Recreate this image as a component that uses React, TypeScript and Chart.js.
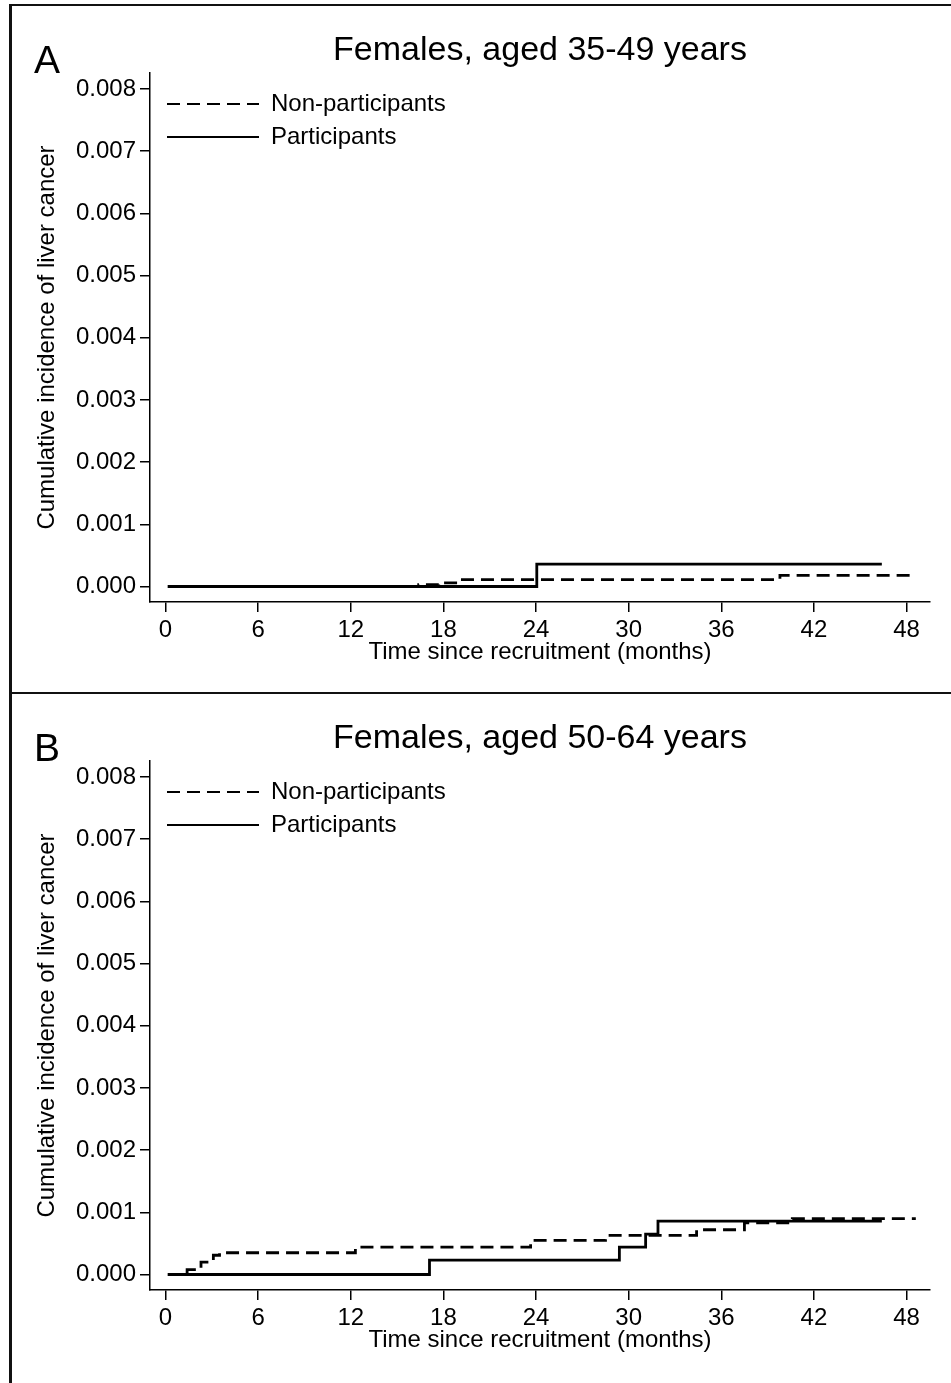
import React, { useEffect, useRef } from "react";
import { Chart, registerables } from "chart.js";

Chart.register(...registerables);

const FONT = "'Liberation Sans', Arial, Helvetica, sans-serif";

// Axis ticks
const xTicks = [0, 6, 12, 18, 24, 30, 36, 42, 48];
const xTickLabels = ["0", "6", "12", "18", "24", "30", "36", "42", "48"];
const yTicks = [0, 0.001, 0.002, 0.003, 0.004, 0.005, 0.006, 0.007, 0.008];
const yTickLabels = ["0.000", "0.001", "0.002", "0.003", "0.004", "0.005", "0.006", "0.007", "0.008"];

const xAxisTitle = "Time since recruitment (months)";
const yAxisTitle = "Cumulative incidence of liver cancer";
const seriesLabels = ["Non-participants", "Participants"];

// Panel A: Females, aged 35-49 years
const panelATitle = "Females, aged 35-49 years";
const nonPartTimesA = [0.15, 16.4, 17.7, 18.9, 39.8, 48.6];
const nonPartIncA = [0, 0.00003, 0.00006, 0.00011, 0.00018, 0.00018];
const partTimesA = [0.15, 24.05, 46.4];
const partIncA = [0, 0.00036, 0.00036];

// Panel B: Females, aged 50-64 years
const panelBTitle = "Females, aged 50-64 years";
const nonPartTimesB = [0.15, 1.4, 2.3, 3.1, 3.5, 12.3, 23.65, 28.5, 34.4, 37.5, 40.6, 48.6];
const nonPartIncB = [0, 0.00008, 0.0002, 0.00031, 0.00035, 0.00044, 0.00055, 0.00063, 0.00072, 0.00083, 0.0009, 0.0009];
const partTimesB = [0.15, 17.1, 29.4, 31.1, 31.9, 46.4];
const partIncB = [0, 0.00023, 0.00044, 0.00065, 0.00086, 0.00086];

const toPoints = (t: number[], v: number[]) => t.map((x, i) => ({ x, y: v[i] }));

const legendOffset = {
  id: "legendOffset",
  afterLayout(chart: any) {
    const lg = chart.legend;
    const ca = chart.chartArea;
    if (lg && ca) {
      const h = lg.height;
      lg.left = ca.left + 8;
      lg.top = ca.top + 10;
      lg.bottom = lg.top + h;
    }
  },
};

type PanelProps = {
  letter: string;
  title: string;
  nonTimes: number[];
  nonInc: number[];
  partTimes: number[];
  partInc: number[];
  top: number;
};

function Panel({ letter, title, nonTimes, nonInc, partTimes, partInc, top }: PanelProps) {
  const ref = useRef<HTMLCanvasElement | null>(null);

  useEffect(() => {
    if (!ref.current) return;
    const tickFont = { family: FONT, size: 24 };
    const labelFont = { family: FONT, size: 24 };
    const chart = new Chart(ref.current, {
      type: "line",
      data: {
        datasets: [
          {
            label: seriesLabels[0],
            data: toPoints(nonTimes, nonInc),
            borderColor: "#000",
            backgroundColor: "#000",
            borderWidth: 2.8,
            borderDash: [13, 7],
            stepped: "before",
            pointRadius: 0,
            fill: false,
          },
          {
            label: seriesLabels[1],
            data: toPoints(partTimes, partInc),
            borderColor: "#000",
            backgroundColor: "#000",
            borderWidth: 2.8,
            borderDash: [],
            stepped: "before",
            pointRadius: 0,
            fill: false,
          },
        ],
      },
      options: {
        animation: false,
        responsive: true,
        maintainAspectRatio: false,
        layout: { padding: { left: 0, right: 21, top: 0, bottom: 6 } },
        plugins: {
          title: {
            display: true,
            text: title,
            fullSize: false,
            color: "#000",
            font: { family: FONT, size: 34, weight: "normal" },
            padding: { top: 30.1, bottom: 2.1 },
          },
          legend: {
            position: "chartArea",
            align: "start",
            labels: {
              usePointStyle: true,
              pointStyle: "line",
              pointStyleWidth: 92,
              padding: 9,
              color: "#000",
              font: labelFont,
              generateLabels: (c: any) =>
                c.data.datasets.map((ds: any, i: number) => ({
                  text: ds.label,
                  fillStyle: "#000",
                  strokeStyle: "#000",
                  fontColor: "#000",
                  lineWidth: 2,
                  lineDash: ds.borderDash || [],
                  lineCap: "butt",
                  pointStyle: "line",
                  hidden: false,
                  datasetIndex: i,
                })),
            },
          },
          tooltip: { enabled: false },
        },
        scales: {
          x: {
            type: "linear",
            min: -1.004,
            max: 49.52,
            afterBuildTicks: (s: any) => {
              s.ticks = xTicks.map((v) => ({ value: v }));
            },
            afterFit: (s: any) => {
              s.height = 80;
            },
            ticks: {
              color: "#000",
              font: tickFont,
              padding: 3.6,
              maxRotation: 0,
              autoSkip: false,
              callback: (v: any) => {
                const i = xTicks.indexOf(Number(v));
                return i >= 0 ? xTickLabels[i] : "";
              },
            },
            grid: {
              display: true,
              drawOnChartArea: false,
              drawTicks: true,
              tickLength: 10,
              color: "#000",
              lineWidth: 1.5,
            },
            border: { display: true, color: "#000", width: 1.5 },
            title: {
              display: true,
              text: xAxisTitle,
              color: "#000",
              font: labelFont,
              padding: { top: 0, bottom: 15.6 },
            },
          },
          y: {
            type: "linear",
            min: -0.000249,
            max: 0.008257,
            afterBuildTicks: (s: any) => {
              s.ticks = yTicks.map((v) => ({ value: v }));
            },
            afterFit: (s: any) => {
              s.width = 150;
            },
            ticks: {
              color: "#000",
              font: tickFont,
              padding: 4,
              autoSkip: false,
              callback: (v: any) => {
                const i = yTicks.findIndex((t) => Math.abs(t - Number(v)) < 1e-9);
                return i >= 0 ? yTickLabels[i] : "";
              },
            },
            grid: {
              display: true,
              drawOnChartArea: false,
              drawTicks: true,
              tickLength: 10,
              color: "#000",
              lineWidth: 1.5,
            },
            border: { display: true, color: "#000", width: 1.5 },
            title: {
              display: true,
              text: yAxisTitle,
              color: "#000",
              font: labelFont,
              padding: { top: 33.1, bottom: 0 },
            },
          },
        },
      } as any,
      plugins: [legendOffset],
    });
    return () => chart.destroy();
  }, []);

  return (
    <div style={{ position: "absolute", left: 0, top, width: 951, height: 688 }}>
      <div style={{ position: "absolute", left: 0, top: 0, width: 951, height: 688 }}>
        <canvas ref={ref} />
      </div>
      <div
        style={{
          position: "absolute",
          left: 9,
          top: 3.5,
          width: 960,
          height: 2.5,
          background: "#111",
        }}
      />
      <div
        style={{
          position: "absolute",
          left: 34,
          top: 40,
          fontFamily: FONT,
          fontSize: 39,
          lineHeight: "39px",
          color: "#000",
        }}
      >
        {letter}
      </div>
    </div>
  );
}

export default function App() {
  return (
    <div
      style={{
        position: "absolute",
        left: 0,
        top: 0,
        width: 951,
        height: 1383,
        overflow: "hidden",
        background: "#fff",
      }}
    >
      <Panel
        letter="A"
        title={panelATitle}
        nonTimes={nonPartTimesA}
        nonInc={nonPartIncA}
        partTimes={partTimesA}
        partInc={partIncA}
        top={0}
      />
      <Panel
        letter="B"
        title={panelBTitle}
        nonTimes={nonPartTimesB}
        nonInc={nonPartIncB}
        partTimes={partTimesB}
        partInc={partIncB}
        top={688}
      />
      <div
        style={{
          position: "absolute",
          left: 9,
          top: 3.5,
          width: 2.5,
          height: 1400,
          background: "#111",
        }}
      />
    </div>
  );
}
